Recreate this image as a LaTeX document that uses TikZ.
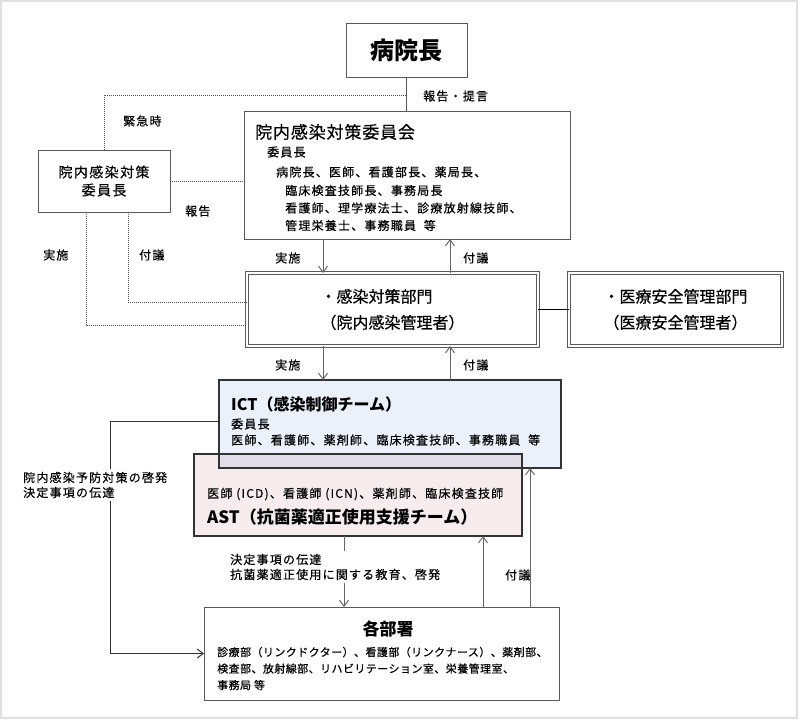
\documentclass[tikz,border=0pt]{standalone}
\usepackage{fontspec}
\setmainfont{Noto Sans CJK JP}[UprightFeatures={FakeBold=0.4}]
\usetikzlibrary{arrows.meta,positioning}
\definecolor{ictblue}{RGB}{234,241,250}
\definecolor{astpink}{RGB}{246,236,237}
\definecolor{mixlilac}{RGB}{226,220,232}
\tikzset{
    %Define standard arrow tip
    >={Straight Barb[length=6pt,width=9pt]},
    %Define style for boxes
    kasten/.style={
           rectangle,
           draw=black!65,
           line width=1pt,
           fill=white,
           inner sep=0pt,
           outer sep=0pt},
    %Define style for double framed boxes
    dkasten/.style={
           kasten,
           double=white,
           double distance=1.6pt,
           align=left,
           font=\fontsize{16}{26}\selectfont},
    %Define style for team boxes
    team/.style={
           kasten,
           draw=black!80,
           line width=1.3pt},
    % Define style for texts
    txt/.style={
           anchor=west,
           inner sep=0pt,
           align=left,
           font=\fontsize{12}{15}\selectfont\addfontfeature{LetterSpace=10}},
    % Define arrow style
    pfeil/.style={
           ->,
           draw=black!60,
           line width=1pt},
    % Define dotted line style
    punktlinie/.style={
           draw=black!70,
           line width=0.8pt,
           dash pattern=on 1pt off 1pt}
}

\begin{document}
\begin{tikzpicture}[x=1pt, y=-1pt]
  \useasboundingbox (0,0) rectangle (800,720);
  \draw[black!12, line width=1.5pt] (1,1) rectangle (797,718);

  % top boxes
  \node[kasten, minimum width=121pt, minimum height=54pt,
        font=\bfseries\fontsize{24}{24}\selectfont] (direktor) at (406.5,50) {病院長};
  \node[kasten, minimum width=326pt, minimum height=128pt] (komitee) at (407,175) {};
  \node[txt, font=\fontsize{17}{17}\selectfont\addfontfeature{LetterSpace=5}] (komtitel) at (255,132) {院内感染対策委員会};
  \node[txt] (komvors) at (267,152) {委員長};
  \node[txt] (komzeile) at (276,172) {病院長、医師、看護部長、薬局長、};
  \node[txt, font=\fontsize{12}{17.5}\selectfont\addfontfeature{LetterSpace=10}] (kommitglied) at (285,208)
       {臨床検査技師長、事務局長\\看護師、理学療法士、診療放射線技師、\\管理栄養士、事務職員\ \ 等};
  \node[kasten, minimum width=132pt, minimum height=62pt, align=center,
        font=\fontsize{14}{18}\selectfont\addfontfeature{LetterSpace=10}] (vorsitz) at (104,181) {院内感染対策\\委員長};

  % middle boxes
  \node[dkasten, minimum width=291pt, minimum height=73pt] (abteilung) at (392.5,309.5)
       {・感染対策部門\\（院内感染管理者）};
  \node[dkasten, minimum width=213pt, minimum height=73pt] (sicherheit) at (675.5,309.5)
       {・医療安全管理部門\\（医療安全管理者）};

  % teams
  \node[team, fill=ictblue, minimum width=342pt, minimum height=88pt] (ict) at (390,424) {};
  \node[team, fill=astpink, minimum width=328pt, minimum height=82pt] (ast) at (358,495) {};
  \fill[mixlilac] (ict.west |- ast.north) rectangle (ast.east |- ict.south);
  \draw[black!80, line width=1.3pt] (ict.north west) rectangle (ict.south east);
  \draw[black!80, line width=1.3pt] (ast.north west) rectangle (ast.south east);
  \node[txt, font=\bfseries\fontsize{16}{16}\selectfont] (icttitel) at (231,404) {ICT（感染制御チーム）};
  \node[txt] (ictvors) at (231,424) {委員長};
  \node[txt] (ictmitglied) at (231,440) {医師、看護師、薬剤師、臨床検査技師、事務職員\ \ 等};
  \node[txt] (astmitglied) at (207,494) {医師 (ICD)、看護師 (ICN)、薬剤師、臨床検査技師};
  \node[txt, font=\bfseries\fontsize{17}{17}\selectfont] (asttitel) at (207,517) {AST（抗菌薬適正使用支援チーム）};

  % departments
  \node[kasten, minimum width=355pt, minimum height=93pt] (bereiche) at (381.5,653.5) {};
  \node[inner sep=0pt, font=\bfseries\fontsize{17}{17}\selectfont] (beretitel) at (388,629) {各部署};
  \node[txt, font=\fontsize{11}{16.5}\selectfont\addfontfeature{LetterSpace=4}] (bereliste) at (217,668.5)
       {診療部（リンクドクター）、看護部（リンクナース）、薬剤部、\\検査部、放射線部、リハビリテーション室、栄養管理室、\\事務局 等};

  % connectors at the top
  \draw[black!65, line width=1pt] (direktor.south) -- (direktor.south |- komitee.north);
  \coordinate (notfall) at (direktor.south |- 0,95);
  \node[txt] (lbericht) at (423,96) {報告・提言};
  \draw[punktlinie] (vorsitz.north) |- (notfall);
  \node[txt] (lnotfall) at (123,121) {緊急時};
  \draw[punktlinie] (vorsitz.east) -- (vorsitz.east -| komitee.west);
  \node[txt] (lmeldung) at (185,211) {報告};
  \draw[punktlinie] (vorsitz.south -| 86,0) |- (abteilung.west |- 0,325);
  \draw[punktlinie] (vorsitz.south -| 128,0) |- (abteilung.west |- 0,302);
  \node[txt] (lausf1) at (43,255) {実施};
  \node[txt] (lvorl1) at (139,255) {付議};

  % committee and section
  \draw[pfeil] (komitee.south -| 323,0) -- (abteilung.north -| 323,0);
  \draw[pfeil] (abteilung.north -| 450,0) -- (komitee.south -| 450,0);
  \node[txt] (lausf2) at (275,258) {実施};
  \node[txt] (lvorl2) at (463,258) {付議};
  \draw[black, line width=0.8pt] (abteilung.east) -- (sicherheit.west);

  % section and teams
  \draw[pfeil] (abteilung.south -| 323,0) -- (ict.north -| 323,0);
  \draw[pfeil] (ict.north -| 450,0) -- (abteilung.south -| 450,0);
  \node[txt] (lausf3) at (275,365) {実施};
  \node[txt] (lvorl3) at (463,365) {付議};

  % teams and departments
  \draw[pfeil, draw=black!80] (ict.west |- 0,421) -| (bereiche.west -| 110,0) -- (bereiche.west);
  \node[txt, fill=white, inner ysep=3pt] (lwissen) at (23,485) {院内感染予防対策の啓発\\決定事項の伝達};
  \draw[pfeil] (ast.south -| 344,0) -- (bereiche.north -| 344,0);
  \node[txt, fill=white, inner ysep=3pt] (llehre) at (230,567) {決定事項の伝達\\抗菌薬適正使用に関する教育、啓発};
  \draw[pfeil] (bereiche.north -| 483,0) -- (ast.south -| 483,0);
  \draw[pfeil] (bereiche.north -| 530,0) -- (ict.south -| 530,0);
  \node[txt] (lvorl4) at (505,575) {付議};
\end{tikzpicture}
\end{document}
